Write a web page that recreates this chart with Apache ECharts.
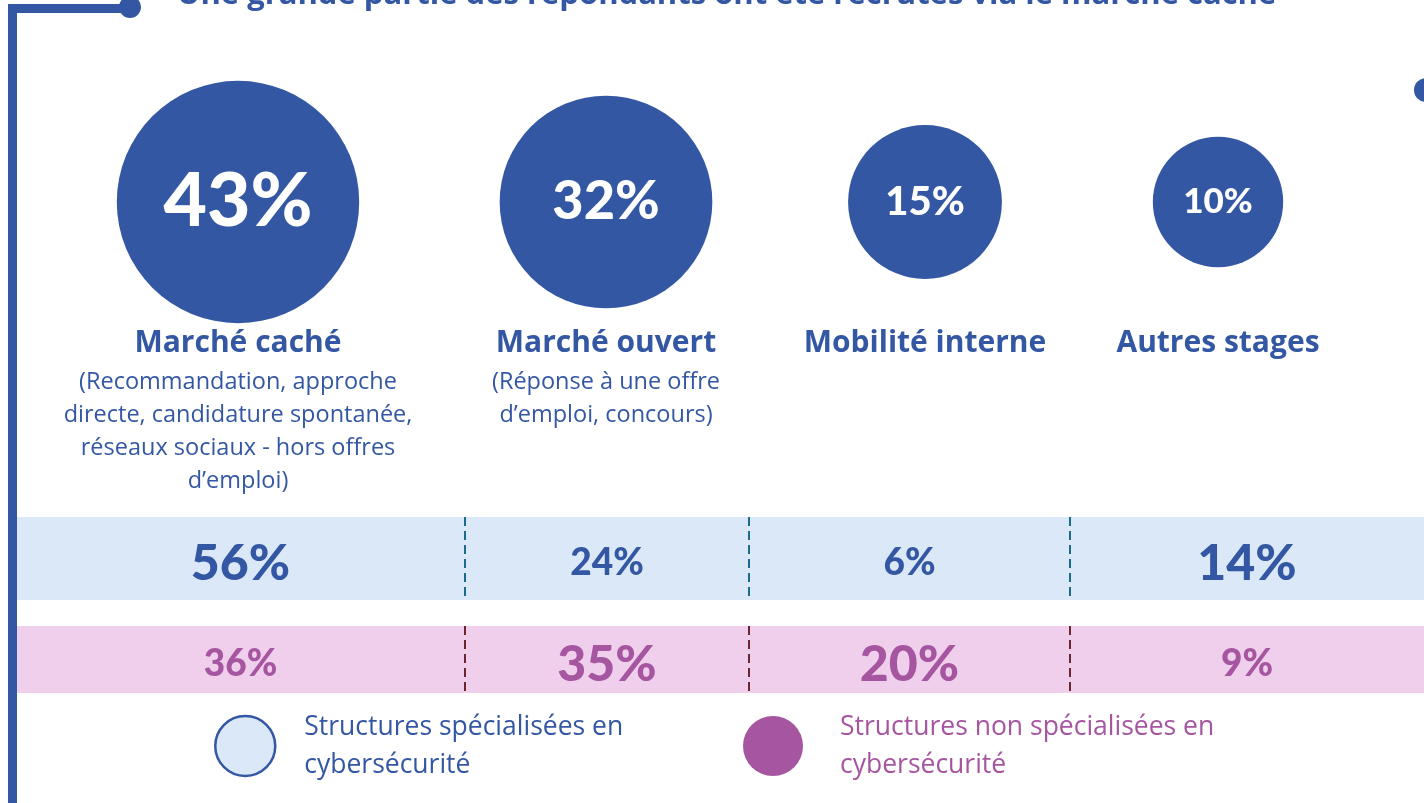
<!DOCTYPE html>
<html>
<head>
<meta charset="utf-8">
<script src="https://cdn.jsdelivr.net/npm/echarts@6/dist/echarts.min.js"></script>
<style>
  html, body { margin: 0; padding: 0; background: #ffffff; }
  #chart { width: 1424px; height: 803px; }
</style>
</head>
<body>
<div id="chart"></div>
<script>
// ---------- DATA ----------
const titleText = 'Une grande partie des répondants ont été recrutés via le marché caché';
const categories = ['Marché caché', 'Marché ouvert', 'Mobilité interne', 'Autres stages'];
const descriptions = [
  '(Recommandation, approche\ndirecte, candidature spontanée,\nréseaux sociaux - hors offres\nd’emploi)',
  '(Réponse à une offre\nd’emploi, concours)',
  '',
  ''
];
const overallShare = [43, 32, 15, 10];
const specialisedShare = [56, 24, 6, 14];
const nonSpecialisedShare = [36, 35, 20, 9];
const groupNames = [
  'Structures spécialisées en\ncybersécurité',
  'Structures non spécialisées en\ncybersécurité'
];

// ---------- LAYOUT / STYLE ----------
const BLUE = '#3457a4';
const PINK = '#a656a0';
const BAND_FILL = ['#dae8f7', '#f0cfec'];
const BAND_TEXT = [BLUE, PINK];
const DIVIDER = ['#1c6a8c', '#6a2732'];
const bubbleCols = [50, 426, 786, 1064, 1372];
const bandCols = [16, 465, 749, 1070, 1424];
const bubbleRow = { top: 85, height: 234 };
const bandRows = [{ top: 517, height: 83 }, { top: 626, height: 67 }];
const bubbleFont = [75, 54, 40, 35];
const NUM_FONT = 'Lato, "Open Sans", sans-serif';
const TXT_FONT = '"Open Sans", "Noto Sans", sans-serif';

const rowsData = [specialisedShare, nonSpecialisedShare];

const grids = [], xAxes = [], yAxes = [], series = [];

// bubble grids
categories.forEach((cat, i) => {
  const gi = grids.length;
  grids.push({ left: bubbleCols[i], width: bubbleCols[i + 1] - bubbleCols[i], top: bubbleRow.top, height: bubbleRow.height });
  xAxes.push({
    type: 'category', gridIndex: gi, data: [cat], position: 'bottom',
    axisLine: { show: false }, axisTick: { show: false }, splitLine: { show: false },
    axisLabel: {
      margin: 1, interval: 0, verticalAlign: 'top',
      formatter: (v) => {
        const d = descriptions[categories.indexOf(v)];
        return '{a|' + v + '}' + (d ? '\n{b|' + d + '}' : '');
      },
      rich: {
        a: { fontFamily: TXT_FONT, fontSize: 30, fontWeight: 'bold', color: BLUE, lineHeight: 46 },
        b: { fontFamily: TXT_FONT, fontSize: 23.5, color: BLUE, lineHeight: 33 }
      }
    }
  });
  yAxes.push({ type: 'category', gridIndex: gi, data: ['ensemble'], show: false });
  series.push({
    type: 'scatter', xAxisIndex: gi, yAxisIndex: gi, clip: false, silent: true,
    data: [[cat, 'ensemble', overallShare[i]]],
    symbolSize: (v) => 26 + 33 * Math.sqrt(v[2]),
    itemStyle: { color: BLUE, opacity: 1 },
    label: {
      show: true, position: 'inside', color: '#ffffff',
      fontFamily: NUM_FONT, fontWeight: 900, fontSize: bubbleFont[i],
      formatter: (p) => p.value[2] + '%'
    }
  });
});

// band grids
categories.forEach((cat, i) => {
  bandRows.forEach((row, r) => {
    const gi = grids.length;
    grids.push({ left: bandCols[i], width: bandCols[i + 1] - bandCols[i], top: row.top, height: row.height });
    xAxes.push({ type: 'category', gridIndex: gi, data: [cat], show: false });
    yAxes.push({ type: 'category', gridIndex: gi, data: [groupNames[r]], show: false });
    const val = rowsData[r][i];
    const other = rowsData[1 - r][i];
    const big = val >= other;
    series.push({
      type: 'custom', name: groupNames[r], xAxisIndex: gi, yAxisIndex: gi, silent: true,
      itemStyle: { color: r === 0 ? BAND_FILL[0] : PINK },
      data: [[cat, groupNames[r], val]],
      renderItem: (params, api) => {
        const c = api.coord([api.value(0), api.value(1)]);
        const s = api.size([1, 1]);
        const x0 = c[0] - s[0] / 2, y0 = c[1] - s[1] / 2;
        const children = [{
          type: 'rect',
          shape: { x: x0, y: y0, width: s[0], height: s[1] },
          style: { fill: BAND_FILL[r] },
          textContent: {
            style: {
              text: api.value(2) + '%', fill: BAND_TEXT[r],
              fontFamily: NUM_FONT, fontWeight: 900, fontSize: big ? 50 : 37
            }
          },
          textConfig: { position: 'inside', offset: [0, 5] }
        }];
        if (i > 0) {
          children.push({
            type: 'line',
            shape: { x1: x0, y1: y0, x2: x0, y2: y0 + s[1] },
            style: { stroke: DIVIDER[r], lineWidth: 2, lineDash: [9, 5] }
          });
        }
        return { type: 'group', children };
      }
    });
  });
});

const legendCommon = {
  orient: 'horizontal', selectedMode: false, itemWidth: 60, itemHeight: 60, top: 703
};

const option = {
  animation: false,
  backgroundColor: '#ffffff',
  title: {
    text: titleText, left: 172, top: -25,
    textStyle: { fontFamily: TXT_FONT, fontSize: 31, fontWeight: 'bold', color: BLUE }
  },
  legend: [
    Object.assign({}, legendCommon, {
      left: 209,
      data: [{ name: groupNames[0], icon: 'circle', itemStyle: { color: BAND_FILL[0], borderColor: BLUE, borderWidth: 2.5 } }],
      textStyle: { fontFamily: TXT_FONT, fontSize: 26.5, lineHeight: 38, padding: [0, 0, 0, 24], color: BLUE }
    }),
    Object.assign({}, legendCommon, {
      left: 738,
      data: [{ name: groupNames[1], icon: 'circle', itemStyle: { color: PINK, borderWidth: 0 } }],
      textStyle: { fontFamily: TXT_FONT, fontSize: 26.5, lineHeight: 38, padding: [0, 0, 0, 32], color: PINK }
    })
  ],
  grid: grids,
  xAxis: xAxes,
  yAxis: yAxes,
  series: series,
  graphic: [
    { type: 'rect', shape: { x: 8, y: 4, width: 9, height: 810 }, style: { fill: BLUE }, z: 10 },
    { type: 'rect', shape: { x: 8, y: 4, width: 122, height: 9 }, style: { fill: BLUE }, z: 10 },
    { type: 'circle', shape: { cx: 130, cy: 7, r: 11 }, style: { fill: BLUE }, z: 10 },
    { type: 'circle', shape: { cx: 1426, cy: 90, r: 12 }, style: { fill: BLUE }, z: 10 }
  ]
};

const chart = echarts.init(document.getElementById('chart'), null, { renderer: 'canvas' });
chart.setOption(option);
</script>
</body>
</html>
